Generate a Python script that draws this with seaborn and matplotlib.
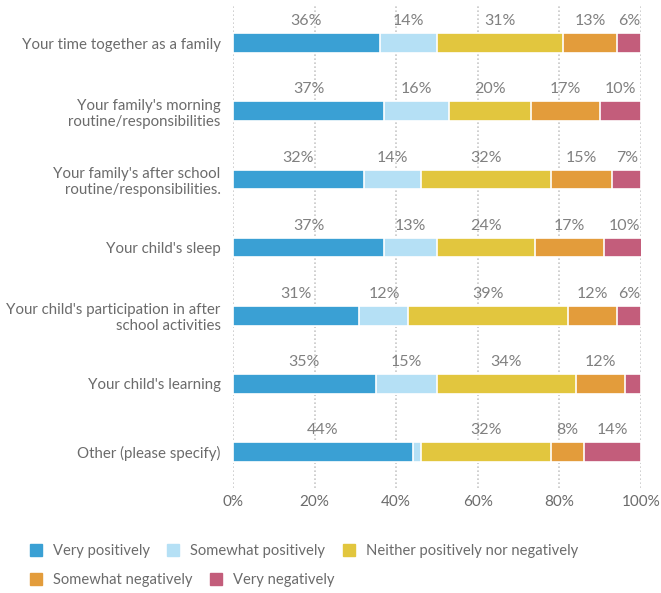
import numpy as np
import pandas as pd
import matplotlib
matplotlib.use("Agg")
import matplotlib.pyplot as plt
from matplotlib.lines import Line2D
import seaborn as sns

# Survey items (top to bottom)
items = [
    "Your time together as a family",
    "Your family's morning\nroutine/responsibilities",
    "Your family's after school\nroutine/responsibilities.",
    "Your child's sleep",
    "Your child's participation in after\nschool activities",
    "Your child's learning",
    "Other (please specify)",
]

# Response categories
responses = [
    "Very positively",
    "Somewhat positively",
    "Neither positively nor negatively",
    "Somewhat negatively",
    "Very negatively",
]

# Percentage of respondents per response, one list per response category
very_pos = [36, 37, 32, 37, 31, 35, 44]
somewhat_pos = [14, 16, 14, 13, 12, 15, 2]
neither = [31, 20, 32, 24, 39, 34, 32]
somewhat_neg = [13, 17, 15, 17, 12, 12, 8]
very_neg = [6, 10, 7, 10, 6, 4, 14]

colors = ["#3AA0D4", "#B5E0F5", "#E2C63E", "#E39C3B", "#C35D7B"]
x_ticks = [0, 20, 40, 60, 80, 100]

sns.set_theme(style="white")
plt.rcParams["font.family"] = ["Lato", "DejaVu Sans"]

series = [very_pos, somewhat_pos, neither, somewhat_neg, very_neg]
values = np.array(series, dtype=float)          # shape (responses, items)
cum = np.cumsum(values, axis=0)

fig = plt.figure(figsize=(6.61, 5.93), dpi=100)
ax = fig.add_axes([233 / 661, 1 - 488 / 593, 408 / 661, 483 / 593])

text_col = "#6b6b6b"
label_col = "#808080"

# Stacked bars: draw the cumulative totals from the outermost segment inward
for k in range(len(responses) - 1, -1, -1):
    df = pd.DataFrame({"item": items, "value": cum[k]})
    sns.barplot(data=df, x="value", y="item", orient="h", color=colors[k],
                width=0.29, edgecolor="white", linewidth=1.2,
                saturation=1, ax=ax, zorder=3)

# Value labels above each segment
for k in range(len(responses)):
    for i in range(len(items)):
        v = values[k, i]
        if v >= 5:
            centre = cum[k, i] - v / 2
            ax.text(centre, i - 0.32, f"{int(v)}%", ha="center", va="center",
                    fontsize=11.5, color=label_col)

ax.set_xlim(0, 100)
ax.set_ylim(6.53, -0.56)
ax.set_xticks(x_ticks)
ax.set_xticklabels([f"{t}%" for t in x_ticks])
ax.set_xlabel("")
ax.set_ylabel("")
for s in ax.spines.values():
    s.set_visible(False)
ax.grid(axis="x", color="#c8c8c8", linestyle=(0, (1, 1.4)), linewidth=1.2, zorder=0)
ax.grid(axis="y", visible=False)
ax.tick_params(axis="x", length=0, pad=5, labelsize=11, labelcolor=text_col)
ax.tick_params(axis="y", length=0, pad=9, labelsize=10.8, labelcolor=text_col)
for lbl in ax.get_yticklabels():
    lbl.set_horizontalalignment("right")
    lbl.set_multialignment("right")

# Legend in two rows below the chart
handles = [Line2D([], [], marker="s", linestyle="none", markersize=8.5,
                  markerfacecolor=c, markeredgecolor=c) for c in colors]
common = dict(frameon=False, borderpad=0, borderaxespad=0, handlelength=1.2,
              handletextpad=0.55, columnspacing=1.0, fontsize=10.6,
              labelcolor=text_col, loc="center left")
fig.legend(handles[:3], responses[:3], ncol=3,
           bbox_to_anchor=(27 / 661, 1 - 551 / 593), **common)
fig.legend(handles[3:], responses[3:], ncol=2,
           bbox_to_anchor=(27 / 661, 1 - 580 / 593), **common)

fig.savefig("out.png", dpi=100)
